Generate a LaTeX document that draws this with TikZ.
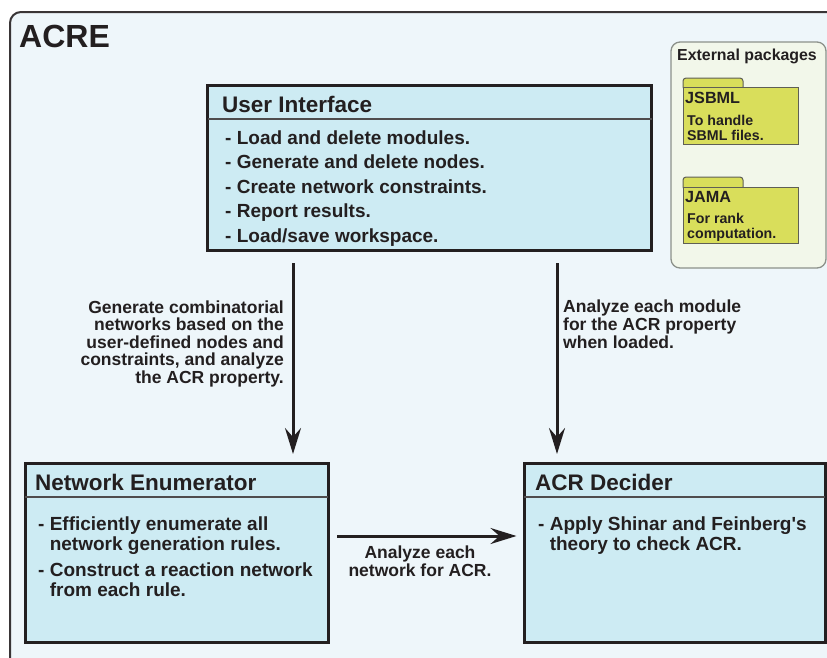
\documentclass[tikz,border=0pt]{standalone}
\usepackage{fontspec}
\setmainfont{Liberation Sans}
\usetikzlibrary{arrows.meta}
\definecolor{framefill}{HTML}{EEF6FA}
\definecolor{boxfill}{HTML}{CDEBF3}
\definecolor{ink}{HTML}{231F20}
\definecolor{extfill}{HTML}{F2F7EA}
\definecolor{extline}{HTML}{8C918A}
\definecolor{pkgfill}{HTML}{D9DE5B}
\definecolor{pkgline}{HTML}{5F5F55}
\begin{document}
\begin{tikzpicture}[x=1pt,y=-1pt,
  box/.style={draw=ink, line width=3pt, fill=boxfill, inner sep=0pt, outer sep=0pt},
  sepline/.style={draw=ink!80, line width=1.2pt},
  hdr/.style={anchor=base west, inner sep=0pt, font=\fontsize{22.5}{27}\selectfont\bfseries, text=ink},
  bodytxt/.style={anchor=base west, inner sep=0pt, font=\fontsize{19}{23}\selectfont\bfseries, text=ink},
  lbl/.style={inner sep=0pt, font=\fontsize{17.5}{17.5}\selectfont\bfseries, text=ink},
  arr/.style={draw=ink, line width=3pt, -{Stealth[length=26pt,width=16pt,inset=9pt]}},
  pkgbox/.style={draw=pkgline, line width=1pt, fill=pkgfill},
  pkghdr/.style={anchor=base west, inner sep=0pt, font=\fontsize{16.2}{18}\selectfont\bfseries, text=ink},
  pkgtxt/.style={anchor=base west, inner sep=0pt, font=\fontsize{14.2}{15}\selectfont\bfseries, text=ink}
]
\useasboundingbox (0,0) rectangle (827,657);
\clip (0,0) rectangle (827,657);
\fill[white] (0,0) rectangle (827,657);
% outer frame
\draw[draw=ink!90, line width=2pt, fill=framefill, rounded corners=11pt] (10,12) rectangle (860,700);
\node[anchor=base west, inner sep=0pt, font=\fontsize{32}{34}\selectfont\bfseries, text=ink] (title) at (19,47) {ACRE};

% external packages
\draw[draw=extline, line width=1.3pt, fill=extfill, rounded corners=9pt] (671,42) rectangle (826,268);
\node[anchor=base west, inner sep=0pt, font=\fontsize{15.9}{18}\selectfont\bfseries, text=ink] (exttitle) at (677,60) {External packages};
% JSBML folder
\draw[pkgbox, rounded corners=3pt] (683,78) rectangle (743,90);
\draw[pkgbox] (683,87) rectangle (798,144);
\node[pkghdr] (jsbml) at (685,103) {JSBML};
\node[pkgtxt] (jsbml1) at (687,125) {To handle};
\node[pkgtxt] (jsbml2) at (687,140) {SBML files.};
% JAMA folder
\draw[pkgbox, rounded corners=3pt] (683,177) rectangle (743,190);
\draw[pkgbox] (683,187) rectangle (798,243);
\node[pkghdr] (jama) at (685,202) {JAMA};
\node[pkgtxt] (jama1) at (687,223) {For rank};
\node[pkgtxt] (jama2) at (687,238) {computation.};

% User Interface box
\node[box, minimum width=444pt, minimum height=165pt] (ui) at (429.5,167.5) {};
\draw[sepline] ([yshift=-34pt]ui.north west) -- ([yshift=-34pt]ui.north east);
\node[hdr] (uih) at (222,112) {User Interface};
\node[bodytxt] (ui1) at (225,144) {- Load and delete modules.};
\node[bodytxt] (ui2) at (225,168.5) {- Generate and delete nodes.};
\node[bodytxt] (ui3) at (225,193) {- Create network constraints.};
\node[bodytxt] (ui4) at (225,217.5) {- Report results.};
\node[bodytxt] (ui5) at (225,242) {- Load/save workspace.};

% Network Enumerator box
\node[box, minimum width=303pt, minimum height=179pt] (ne) at (176.5,552.5) {};
\draw[sepline] ([yshift=-34pt]ne.north west) -- ([yshift=-34pt]ne.north east);
\node[hdr] (neh) at (35,490) {Network Enumerator};
\node[bodytxt] (ne1) at (38,530) {- Efficiently enumerate all};
\node[bodytxt] (ne2) at (38,550) {\phantom{- }network generation rules.};
\node[bodytxt] (ne3) at (38,576) {- Construct a reaction network};
\node[bodytxt] (ne4) at (38,596) {\phantom{- }from each rule.};

% ACR Decider box
\node[box, minimum width=301pt, minimum height=179pt] (acr) at (674.5,552.5) {};
\draw[sepline] ([yshift=-34pt]acr.north west) -- ([yshift=-34pt]acr.north east);
\node[hdr] (acrh) at (535,490) {ACR Decider};
\node[bodytxt] (acr1) at (538,530) {- Apply Shinar and Feinberg\textquotesingle s};
\node[bodytxt] (acr2) at (538,550) {\phantom{- }theory to check ACR.};

% connectors
\coordinate (axl) at (293,0);
\coordinate (axr) at (557,0);
\coordinate (hy) at (0,536);
\draw[arr, shorten <=13pt, shorten >=9pt] (ui.south -| axl) -- (ne.north -| axl);
\draw[arr, shorten <=13pt, shorten >=9pt] (ui.south -| axr) -- (acr.north -| axr);
\draw[arr, shorten <=9pt, shorten >=7.5pt] (ne.east |- hy) -- (acr.west |- hy);

% labels
\node[lbl, anchor=base east] (l1) at (284,313) {Generate combinatorial};
\node[lbl, anchor=base east] (l2) at (284,330.5) {networks based on the};
\node[lbl, anchor=base east] (l3) at (284,348) {user-defined nodes and};
\node[lbl, anchor=base east] (l4) at (284,365.5) {constraints, and analyze};
\node[lbl, anchor=base east] (l5) at (284,383) {the ACR property.};
\node[lbl, anchor=base west] (r1) at (563,312) {Analyze each module};
\node[lbl, anchor=base west] (r2) at (563,330) {for the ACR property};
\node[lbl, anchor=base west] (r3) at (563,348) {when loaded.};
\node[lbl, anchor=base] (h1) at (420,558) {Analyze each};
\node[lbl, anchor=base] (h2) at (420,576) {network for ACR.};
\end{tikzpicture}
\end{document}
